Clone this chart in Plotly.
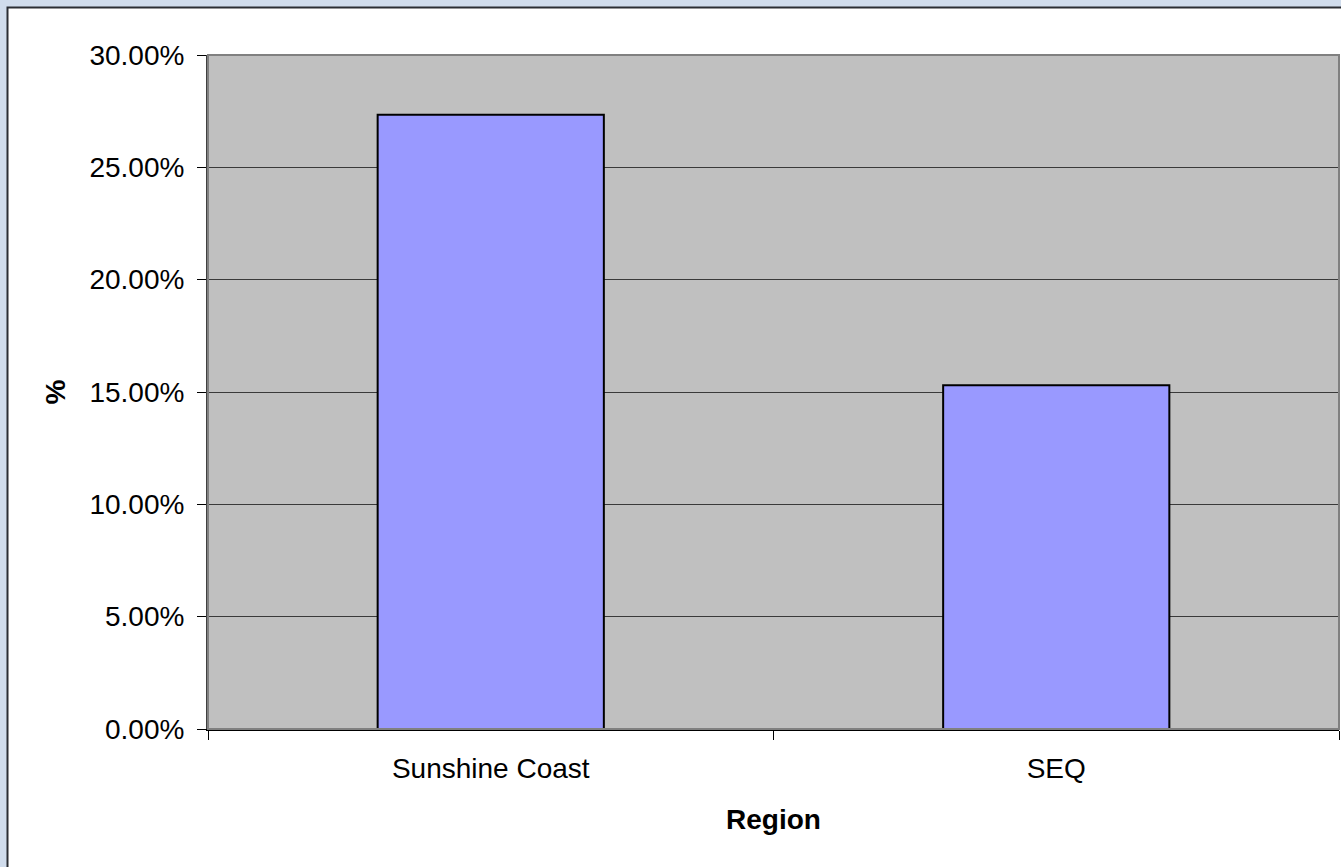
import plotly.graph_objects as go

# Share of households by region
regions = ["Sunshine Coast", "SEQ"]
shares = [0.2734, 0.1530]
y_ticks = [0.0, 0.05, 0.10, 0.15, 0.20, 0.25, 0.30]

FONT = "Liberation Sans, Arial, sans-serif"
W, H = 1341, 867
ML, MR, MT, MB = 208, 2, 55, 138
PW = W - ML - MR
PH = H - MT - MB


def px_x(p):
    return (p - ML) / PW


def px_y(p):
    return (H - MB - p) / PH


fig = go.Figure()
fig.add_trace(go.Bar(
    x=regions,
    y=shares,
    width=0.4,
    marker=dict(color="#9999FF", line=dict(color="#000000", width=2)),
    hoverinfo="x+y",
))

fig.update_layout(
    width=W,
    height=H,
    margin=dict(l=ML, r=MR, t=MT, b=MB, pad=0),
    paper_bgcolor="#D0DCEC",
    plot_bgcolor="#C0C0C0",
    font=dict(family=FONT, size=28, color="#000000"),
    showlegend=False,
    bargap=0.6,
    shapes=[
        # white chart area with dark frame on the left and top
        dict(type="rect", xref="paper", yref="paper", layer="below",
             x0=px_x(7.5), x1=px_x(W + 20), y0=px_y(H + 20), y1=px_y(7.5),
             fillcolor="#FFFFFF", line=dict(color="#2A2D33", width=2)),
        # grey plot area fill
        dict(type="rect", xref="paper", yref="paper", layer="below",
             x0=0, x1=1, y0=0, y1=1,
             fillcolor="#C0C0C0", line=dict(width=0)),
        # plot area border
        dict(type="rect", xref="paper", yref="paper", layer="above",
             x0=0, x1=1, y0=0, y1=1,
             line=dict(color="#808080", width=2), fillcolor="rgba(0,0,0,0)"),
    ],
)

fig.update_xaxes(
    type="category",
    tickson="boundaries",
    ticks="outside",
    ticklen=9,
    tickwidth=1,
    tickcolor="#000000",
    showgrid=False,
    showline=True,
    linecolor="#000000",
    linewidth=2,
    tickfont=dict(family=FONT, size=28),
    ticklabelstandoff=13,
    title=dict(text="<b>Region</b>", font=dict(family=FONT, size=28), standoff=27),
    range=[-0.5, 1.5],
    fixedrange=True,
)

fig.update_yaxes(
    range=[0, 0.30],
    tickvals=y_ticks,
    tickformat=".2%",
    ticks="outside",
    ticklen=9,
    tickwidth=1,
    tickcolor="#000000",
    showgrid=True,
    gridcolor="#3A3A3A",
    gridwidth=1,
    showline=True,
    linecolor="#404040",
    linewidth=2,
    zeroline=False,
    tickfont=dict(family=FONT, size=28),
    ticklabelstandoff=7,
    title=dict(text="<b>%</b>", font=dict(family=FONT, size=28), standoff=16),
    fixedrange=True,
)

fig.write_html("out.html")
